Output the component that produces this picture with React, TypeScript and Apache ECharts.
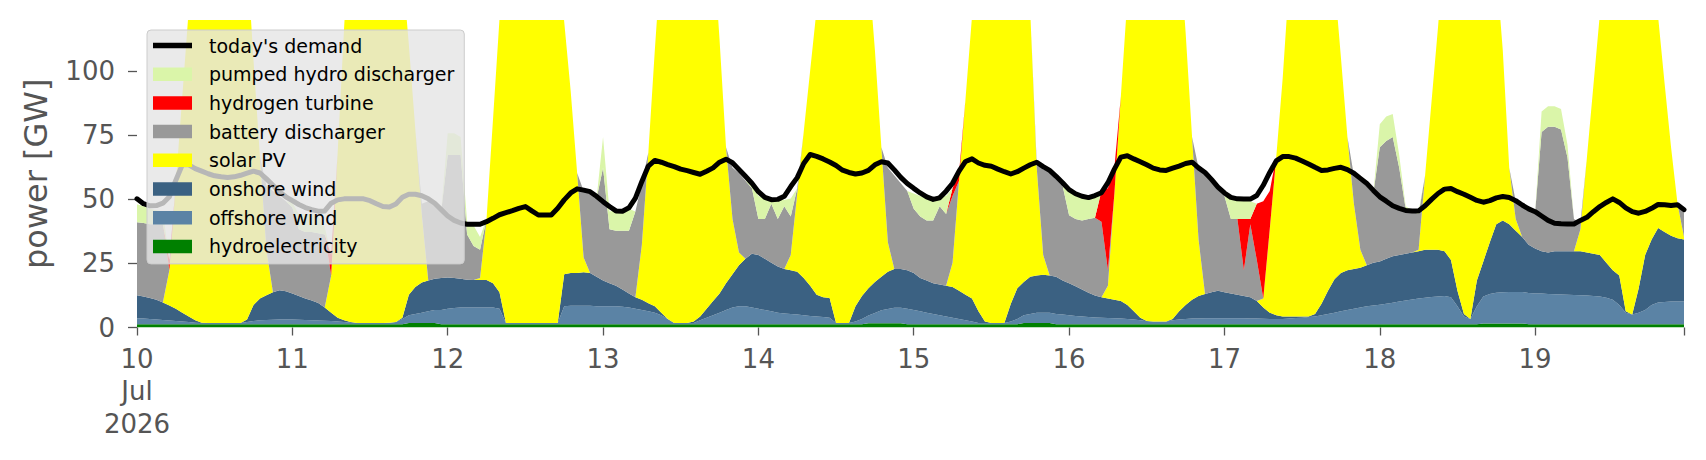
import React, { useEffect, useRef } from "react";
import * as echarts from "echarts";

// ---- categories (hourly, 10–19 Jul 2026) ----
const DAY_LABELS = ["10\nJul\n2026", "11", "12", "13", "14", "15", "16", "17", "18", "19"];
const TIMES: string[] = [];
DAY_LABELS.forEach((_, di) => {
  for (let h = 0; h < 24; h++) TIMES.push(`2026-07-${10 + di} ${String(h).padStart(2, "0")}:00`);
});
const Y_TICKS = [0, 25, 50, 75, 100];

// ---- series values [GW], one row per day ----
const DEMAND = [
  50.2, 48.3, 47.5, 47.6, 48.5, 51, 57.5, 63.5, 63.5, 62, 61, 60, 59.2, 58.8, 58.5, 58.8, 59.4, 60.2, 61, 60.3, 58, 55.5, 53, 51,
  49.5, 48, 46.8, 46, 45.4, 45.5, 48.5, 49.8, 50.2, 50.2, 50.2, 50.2, 49.5, 48.3, 47.2, 47, 48.2, 50.8, 52, 52, 51.4, 50.2, 48.5, 46,
  43.5, 41.8, 40.8, 40.3, 40.3, 40.3, 41.3, 42.6, 44, 44.8, 45.6, 46.5, 47.2, 45.5, 43.9, 43.9, 43.9, 46.5, 49.8, 52.5, 54.1, 53.6, 53, 51.2,
  49.1, 47.2, 45.5, 45.4, 46.7, 50.5, 57, 63, 65.2, 64.5, 63.6, 62.8, 61.8, 61.2, 60.5, 59.8, 61, 62.3, 64.5, 65.7, 64.3, 61.7, 59, 56.3,
  53, 50.8, 49.9, 50, 51.2, 55, 58.5, 64, 67.5, 66.8, 65.8, 64.6, 63.2, 61.4, 60.5, 59.9, 60.3, 61.3, 63.5, 64.7, 64.2, 61.5, 58.6, 56.2,
  54.3, 52.5, 51, 50, 50.6, 53.2, 56.3, 61, 64.8, 65.8, 64.2, 63.3, 62.9, 61.8, 60.8, 59.9, 60.8, 62.2, 63.5, 64.5, 62.8, 61.3, 59, 56.5,
  53.8, 52.2, 51.2, 50.7, 51.5, 52.6, 56.5, 61.8, 66.5, 67, 65.8, 64.7, 63.5, 62.2, 61.5, 61.3, 62.2, 63, 64, 64.5, 62.3, 60.5, 57.8, 54.8,
  52.5, 50.8, 50.2, 50.1, 50.1, 51.5, 55.5, 60.5, 65, 66.7, 66.7, 66.1, 65, 63.8, 62.5, 61.3, 61.5, 62.1, 62.5, 61.6, 60.2, 58.2, 56.2, 53.5,
  51, 49.3, 47.5, 46.5, 45.7, 45.5, 45.5, 47.5, 50, 52.3, 54, 54.2, 53, 52, 50.8, 49.6, 48.9, 49.5, 50.6, 51.1, 50.7, 49.5, 47.8, 46.3,
  45.2, 43.5, 41.8, 40.7, 40.5, 40.4, 40.4, 41.8, 43, 45.2, 47.2, 48.8, 50.2, 48.8, 46.7, 45.2, 44.6, 45.3, 46.5, 48, 47.9, 47.6, 47.9, 46,
];

const HYDRO = [
  1.3, 1.3, 1.3, 1.3, 1.3, 1.3, 1.3, 1.3, 1.3, 1.3, 1.3, 1.3, 1.3, 1.3, 1.3, 1.3, 1.3, 1.3, 1.3, 1.3, 1.3, 1.3, 1.3, 1.3,
  1.3, 1.3, 1.3, 1.3, 1.3, 1.3, 1.3, 1.3, 1.3, 1.3, 1.3, 1.3, 1.3, 1.3, 1.3, 1.3, 1.3, 1.3, 1.8, 1.8, 1.8, 1.8, 1.8, 1.3,
  1.3, 1.3, 1.3, 1.3, 1.3, 1.3, 1.3, 1.3, 1.3, 1.3, 1.3, 1.3, 1.3, 1.3, 1.3, 1.3, 1.3, 1.3, 1.3, 1.3, 1.3, 1.3, 1.3, 1.3,
  1.3, 1.3, 1.3, 1.3, 1.3, 1.3, 1.3, 1.3, 1.3, 1.3, 1.3, 1.3, 1.3, 1.3, 1.3, 1.3, 1.3, 1.3, 1.3, 1.3, 1.3, 1.3, 1.3, 1.3,
  1.3, 1.3, 1.3, 1.3, 1.3, 1.3, 1.3, 1.3, 1.3, 1.3, 1.3, 1.3, 1.3, 1.3, 1.3, 1.3, 1.3, 1.7, 1.7, 1.7, 1.7, 1.7, 1.7, 1.3,
  1.3, 1.3, 1.3, 1.3, 1.3, 1.3, 1.3, 1.3, 1.3, 1.3, 1.3, 1.3, 1.3, 1.3, 1.3, 1.3, 1.3, 1.8, 1.8, 1.8, 1.8, 1.8, 1.3, 1.3,
  1.3, 1.3, 1.3, 1.3, 1.3, 1.3, 1.3, 1.3, 1.3, 1.3, 1.3, 1.3, 1.3, 1.3, 1.3, 1.3, 1.3, 1.3, 1.3, 1.3, 1.3, 1.3, 1.3, 1.3,
  1.3, 1.3, 1.3, 1.3, 1.3, 1.3, 1.3, 1.3, 1.3, 1.3, 1.3, 1.3, 1.3, 1.3, 1.3, 1.3, 1.3, 1.3, 1.3, 1.3, 1.3, 1.3, 1.3, 1.3,
  1.3, 1.3, 1.3, 1.3, 1.3, 1.3, 1.3, 1.3, 1.3, 1.3, 1.3, 1.3, 1.3, 1.3, 1.3, 1.3, 1.6, 1.6, 1.6, 1.6, 1.6, 1.6, 1.6, 1.3,
  1.3, 1.3, 1.3, 1.3, 1.3, 1.3, 1.3, 1.3, 1.3, 1.3, 1.3, 1.3, 1.3, 1.3, 1.3, 1.3, 1.3, 1.3, 1.3, 1.3, 1.3, 1.3, 1.3, 1.3,
];

const OFFSHORE = [
  2.3, 2.2, 2.0, 1.8, 1.6, 1.4, 1.2, 1.0, 0.8, 0.6, 0.5, 0.5, 0.5, 0.5, 0.5, 0.5, 0.5, 0.8, 1.2, 1.5, 1.6, 1.7, 1.8, 1.8,
  1.8, 1.7, 1.6, 1.5, 1.4, 1.3, 1.2, 1.0, 0.8, 0.6, 0.5, 0.5, 0.5, 0.5, 0.5, 0.6, 0.8, 2.0, 3.0, 3.5, 4.0, 4.5, 5.0, 5.5,
  6.0, 6.3, 6.5, 6.5, 6.5, 6.5, 6.5, 6.5, 6.0, 0.5, 0.5, 0.5, 0.5, 0.5, 0.5, 0.5, 0.5, 0.5, 7.0, 7.2, 7.2, 7.2, 7.2, 7.0,
  7.0, 7.0, 7.0, 6.8, 6.5, 6.0, 5.5, 5.0, 4.5, 3.5, 2.0, 0.5, 0.5, 0.5, 0.5, 1.5, 2.5, 3.5, 4.5, 5.5, 6.5, 7.0, 7.0, 6.5,
  6.0, 5.5, 5.0, 4.5, 4.2, 4.0, 3.8, 3.5, 3.2, 3.0, 2.8, 2.5, 0.5, 0.5, 0.5, 1.0, 2.0, 3.0, 4.0, 5.0, 5.5, 6.0, 6.0, 6.0,
  5.5, 5.0, 4.5, 4.0, 3.5, 3.0, 2.5, 2.0, 1.5, 1.0, 0.5, 0.5, 0.5, 0.5, 0.5, 1.0, 2.0, 3.0, 3.5, 4.0, 4.0, 4.0, 4.0, 3.8,
  3.5, 3.2, 3.0, 2.8, 2.6, 2.5, 2.4, 2.3, 2.2, 2.0, 1.8, 1.5, 1.2, 1.0, 1.0, 1.0, 1.5, 1.8, 2.0, 2.2, 2.2, 2.3, 2.3, 2.3,
  2.3, 2.3, 2.3, 2.3, 2.2, 2.2, 2.1, 2.0, 2.0, 2.0, 2.2, 2.4, 2.5, 2.8, 3.0, 3.5, 4.0, 4.5, 5.0, 5.5, 6.0, 6.5, 7.0, 7.3,
  7.6, 8.0, 8.4, 8.8, 9.2, 9.6, 10.0, 10.3, 10.6, 10.8, 11.0, 10.5, 7.0, 3.0, 2.0, 7.0, 10.5, 11.5, 12.0, 12.2, 12.3, 12.3, 12.3, 12.2,
  12.0, 12.0, 11.8, 11.7, 11.6, 11.5, 11.4, 11.3, 11.2, 11.0, 10.8, 10.3, 9.5, 7.5, 4.5, 3.8, 4.5, 5.5, 7.5, 8.5, 8.7, 8.8, 8.8, 8.8,
];

const ONSHORE = [
  9.0, 8.6, 8.2, 7.7, 6.9, 5.9, 4.8, 3.5, 2.2, 0.9, 0.1, 0, 0, 0, 0, 0, 0, 1.0, 6.3, 8.5, 9.7, 10.8, 11.4, 11.0,
  10.2, 9.3, 8.4, 7.7, 6.9, 5.2, 3.3, 1.5, 0.7, 0.2, 0, 0, 0, 0, 0, 0, 0, 0.5, 8.0, 10.5, 11.8, 12.0, 12.2, 12.5,
  12.2, 11.7, 11.2, 10.8, 10.7, 10.7, 10.7, 9.5, 6.5, 0, 0, 0, 0, 0, 0, 0, 0, 0, 12.5, 12.8, 12.8, 13.1, 12.8, 11.5,
  10.0, 9.0, 8.0, 6.7, 5.5, 4.5, 4.0, 3.2, 2.5, 1.0, 0, 0, 0, 0, 0.5, 1.5, 3.5, 5.5, 7.5, 10.5, 13.0, 16.0, 18.5, 21.0,
  21.0, 20.0, 19.0, 18.0, 17.3, 17.0, 16.7, 14.5, 11.8, 8.5, 7.7, 7.7, 0, 0, 0, 6.0, 9.0, 10.6, 12.1, 13.1, 14.6, 15.1, 15.1, 15.0,
  14.5, 13.0, 12.5, 12.0, 12.0, 12.0, 12.0, 11.0, 10.0, 9.0, 4.5, 0.5, 0, 0, 0, 7.0, 12.0, 13.0, 14.5, 14.5, 14.8, 14.5, 14.5, 13.2,
  12.5, 11.6, 10.5, 9.5, 8.6, 8.0, 7.6, 7.2, 6.8, 5.5, 3.2, 1.0, 0, 0, 0, 0, 0.5, 3.2, 5.5, 7.3, 8.8, 9.5, 10.2, 10.7,
  10.2, 9.7, 9.2, 8.7, 8.3, 6.8, 4.4, 2.5, 1.5, 1.0, 0.8, 0.6, 0.5, 0.2, 1.0, 4.5, 9.0, 13.0, 15.0, 15.5, 15.5, 15.5, 16.0, 16.7,
  16.9, 17.5, 18.1, 18.2, 18.3, 18.4, 18.5, 18.7, 18.4, 18.2, 17.5, 14.5, 6.0, 1.0, 0, 10.0, 13.7, 20.2, 26.7, 28.0, 26.4, 23.9, 21.4, 18.8,
  17.5, 16.5, 16.2, 16.8, 16.9, 17.0, 17.1, 17.2, 16.8, 16.5, 16.2, 13.7, 11.5, 11.5, 0.5, 0, 9.5, 21.5, 25.5, 29.0, 27.3, 25.7, 24.7, 24.2,
];

const SOLAR = [
  0, 0, 0, 0, 0, 13.7, 49, 84.5, 120, 150, 175, 190, 195, 192, 180, 165, 152, 142, 95.5, 55, 17.7, 0, 0, 0,
  0, 0, 0, 0, 0, 0, 14.5, 64.5, 114.5, 158, 185, 200, 205, 205, 195, 180, 160, 136.5, 97.5, 61.5, 26.7, 0, 0, 0,
  0, 0, 0, 0, 0, 0.8, 23.8, 64, 106.5, 156.5, 185, 200, 205, 205, 200, 190, 175, 150, 98.5, 71, 39, 5.7, 0, 0,
  0, 0, 0, 0, 0, 0, 21.5, 58.8, 100, 139.5, 175, 195, 205, 205, 200, 190, 172, 140, 99, 53, 21.5, 5, 0, 0,
  0, 0, 0, 0, 0, 6, 30.5, 57, 84, 111.5, 150, 175, 195, 205, 205, 200, 185, 125, 90.5, 50.5, 11.5, 0, 0, 0,
  0, 0, 0, 0, 0, 0, 9.5, 43, 76.5, 110, 149, 180, 198, 205, 205, 195, 180, 132.5, 103.5, 42, 7.7, 0, 0, 0,
  0, 0, 0, 0, 0, 0, 5, 41.5, 80, 119.5, 159, 190, 205, 210, 210, 200, 185, 144, 106.5, 63.5, 22, 0, 0, 0,
  0, 0, 0, 0, 0, 0, 3.5, 32.5, 61.5, 93, 131, 165, 190, 200, 200, 195, 180, 116.5, 84, 52, 25.5, 7, 0, 0,
  0, 0, 0, 0, 0, 0, 0.5, 29, 58, 87, 120.5, 160, 185, 200, 205, 205, 195, 175, 100, 66.5, 22, 4.5, 0, 0,
  0, 0, 0, 0, 0, 0, 0, 8.5, 37, 65.5, 94, 135, 185, 200, 205, 200, 190, 180, 116, 82.5, 58, 34.5, 13.5, 1,
];

const BATTERY = [
  28.5, 28.7, 28.8, 29.5, 30.5, 0, 0, 0, 0, 0, 0, 0, 0, 0, 0, 0, 0, 0, 0, 0, 25, 39.5, 36.8, 35.2,
  33.5, 26, 26, 26.8, 27.2, 28.5, 0, 0, 0, 0, 0, 0, 0, 0, 0, 0, 0, 0, 0, 0, 4, 31, 28.8, 26,
  47.8, 48, 48.3, 17.7, 13.3, 11, 0, 0, 0, 0, 0, 0, 0, 0, 0, 0, 0, 0, 0, 0, 0, 26, 31, 30.5,
  44, 21, 21.5, 23, 24.5, 33.5, 24, 0, 0, 0, 0, 0, 0, 0, 0, 0, 0, 0, 0, 0, 20, 31, 30.5, 25.5,
  14, 15.5, 23, 18.5, 24.5, 15, 2, 0, 0, 0, 0, 0, 0, 0, 0, 0, 0, 0, 0, 0, 29, 36.5, 33.5, 31,
  25, 24, 23.5, 24.5, 30.5, 28, 26, 0, 0, 0, 0, 0, 0, 0, 0, 0, 0, 0, 0, 2, 33.5, 40.5, 39, 37,
  26.5, 26.2, 27, 28.7, 30.3, 29.5, 6, 0, 0, 0, 0, 0, 0, 0, 0, 0, 0, 0, 0, 0, 28, 46.7, 43, 39.5,
  37.5, 29, 29.5, 10, 28.5, 16, 0, 0, 0, 0, 0, 0, 0, 0, 0, 0, 0, 0, 0, 0, 11, 27, 30.5, 27,
  44.5, 46, 46.5, 34, 17.5, 16, 14, 0, 0, 0, 0, 0, 0, 0, 0, 0, 0, 0, 0, 0, 0, 7, 12.5, 14,
  14, 46.5, 49, 48.5, 47.5, 36.5, 12.5, 2.5, 0, 0, 0, 0, 0, 0, 0, 0, 0, 0, 0, 0, 0, 0, 0, 10.5,
];

const HYDROGEN = [
  0, 0, 0, 0, 0, 4, 0, 0, 0, 0, 0, 0, 0, 0, 0, 0, 0, 0, 0, 0, 0, 0, 0, 0,
  0, 0, 0, 0, 0, 0, 8, 0, 0, 0, 0, 0, 0, 0, 0, 0, 0, 0, 0, 0, 0, 0, 0, 0,
  0, 0, 0, 0, 0, 0, 0, 0, 0, 0, 0, 0, 0, 0, 0, 0, 0, 0, 0, 0, 0, 0, 0, 0,
  0, 0, 0, 0, 0, 0, 0, 0, 0, 0, 0, 0, 0, 0, 0, 0, 0, 0, 0, 0, 0, 0, 0, 0,
  0, 0, 0, 0, 0, 0, 0, 0, 0, 0, 0, 0, 0, 0, 0, 0, 0, 0, 0, 0, 0, 0, 0, 0,
  0, 0, 0, 0, 0, 0, 3, 3, 0, 0, 0, 0, 0, 0, 0, 0, 0, 0, 0, 0, 0, 0, 0, 0,
  0, 0, 0, 0, 0, 12, 32, 10, 0, 0, 0, 0, 0, 0, 0, 0, 0, 0, 0, 0, 0, 0, 0, 0,
  0, 0, 0, 20, 2, 22, 38, 15, 0, 0, 0, 0, 0, 0, 0, 0, 0, 0, 0, 0, 0, 0, 0, 0,
  0, 0, 0, 0, 0, 0, 0, 0, 0, 0, 0, 0, 0, 0, 0, 0, 0, 0, 0, 0, 0, 0, 0, 0,
  0, 0, 0, 0, 0, 0, 0, 0, 0, 0, 0, 0, 0, 0, 0, 0, 0, 0, 0, 0, 0, 0, 0, 0,
];

const PUMPED_HYDRO = [
  7, 6.5, 6, 5.5, 5, 0, 0, 0, 0, 0, 0, 0, 0, 0, 0, 0, 0, 0, 0, 0, 0, 0, 0, 0,
  2, 6, 7, 7, 6.5, 3, 0, 0, 0, 0, 0, 0, 0, 0, 0, 0, 0, 0, 0, 0, 0, 0, 0, 0,
  8.5, 8.5, 7, 5, 8, 5, 0, 0, 0, 0, 0, 0, 0, 0, 0, 0, 0, 0, 0, 0, 0, 0, 0, 0,
  12, 7, 8, 8, 8.5, 0, 0, 0, 0, 0, 0, 0, 0, 0, 0, 0, 0, 0, 0, 0, 0, 0, 0, 1.5,
  9, 8, 1.5, 7.5, 2.5, 7, 0, 0, 0, 0, 0, 0, 0, 0, 0, 0, 0, 0, 0, 0, 0, 0, 0, 0,
  6, 8, 8.5, 9, 4, 7, 0, 0, 0, 0, 0, 0, 0, 0, 0, 0, 0, 0, 0, 0, 0, 0, 0, 0,
  9, 10, 9.5, 8.5, 8, 0, 0, 0, 0, 0, 0, 0, 0, 0, 0, 0, 0, 0, 0, 0, 0, 0, 0, 0,
  0, 8, 8, 8, 7, 0, 0, 0, 0, 0, 0, 0, 0, 0, 0, 0, 0, 0, 0, 0, 0, 0, 0, 0,
  9, 9.5, 9, 5, 1, 0.5, 1, 0, 0, 0, 0, 0, 0, 0, 0, 0, 0, 0, 0, 0, 0, 0, 0, 0,
  0, 8, 8, 8, 8, 5, 0, 0, 0, 0, 0, 0, 0, 0, 0, 0, 0, 0, 0, 0, 0, 0, 0, 0,
];

// ---- styles ----
const FONT = "DejaVu Sans";
const AXIS_GREY = "#555555";
const STACK = [
  { name: "hydroelectricity", data: HYDRO, color: "#008000" },
  { name: "offshore wind", data: OFFSHORE, color: "#5b83a5" },
  { name: "onshore wind", data: ONSHORE, color: "#3b6182" },
  { name: "solar PV", data: SOLAR, color: "#ffff00" },
  { name: "battery discharger", data: BATTERY, color: "#999999" },
  { name: "hydrogen turbine", data: HYDROGEN, color: "#ff0000" },
  { name: "pumped hydro discharger", data: PUMPED_HYDRO, color: "#daf5a9" },
];
const DEMAND_NAME = "today's demand";

export default function App() {
  const ref = useRef<HTMLDivElement>(null);

  useEffect(() => {
    document.body.style.margin = "0";
    if (!ref.current) return;
    const chart = echarts.init(ref.current, undefined, { renderer: "svg" });

    const stackSeries = STACK.map((s) => ({
      name: s.name,
      type: "line",
      stack: "supply",
      data: s.data,
      symbol: "none",
      showSymbol: false,
      smooth: false,
      lineStyle: { width: 0, color: s.color },
      itemStyle: { color: s.color },
      areaStyle: { color: s.color, opacity: 1 },
      emphasis: { disabled: true },
      z: 2,
    }));

    const legendData = [
      { name: DEMAND_NAME, icon: "path://M0,0L40,0L40,5.8L0,5.8Z", itemStyle: { color: "#000000" } },
      ...[...STACK].reverse().map((s) => ({ name: s.name, icon: "rect", itemStyle: { color: s.color } })),
    ];

    chart.setOption({
      animation: false,
      backgroundColor: "#ffffff",
      grid: { left: 137, right: 22, top: 20, bottom: 132.5, containLabel: false },
      legend: {
        orient: "vertical",
        left: 147,
        top: 30,
        padding: [6, 10, 8, 6],
        itemGap: 9.7,
        itemWidth: 39,
        itemHeight: 13.5,
        backgroundColor: "rgba(229,229,229,0.8)",
        borderColor: "#cccccc",
        borderWidth: 1,
        borderRadius: 4,
        selectedMode: false,
        itemStyle: { borderWidth: 0 },
        textStyle: { fontFamily: FONT, fontSize: 19, lineHeight: 19, color: "#000000", padding: [0, 0, 0, 12] },
        data: legendData,
      },
      xAxis: {
        type: "category",
        data: TIMES,
        boundaryGap: false,
        axisLine: { show: false },
        splitLine: { show: false },
        axisTick: {
          show: true,
          interval: (i: number) => i % 24 === 0 || i === TIMES.length - 1,
          length: 8,
          lineStyle: { color: AXIS_GREY, width: 1.3 },
        },
        axisLabel: {
          interval: (i: number) => i % 24 === 0,
          formatter: (_v: string, i: number) => DAY_LABELS[Math.floor(i / 24)] ?? "",
          color: AXIS_GREY,
          fontFamily: FONT,
          fontSize: 26,
          lineHeight: 32.5,
          margin: 15,
        },
      },
      yAxis: {
        type: "value",
        min: 0,
        max: 120,
        interval: 25,
        axisLine: { show: false },
        splitLine: { show: false },
        axisTick: {
          show: true,
          length: 9,
          customValues: Y_TICKS,
          lineStyle: { color: AXIS_GREY, width: 1.3 },
        },
        axisLabel: {
          customValues: Y_TICKS,
          color: AXIS_GREY,
          fontFamily: FONT,
          fontSize: 26,
          margin: 22,
        },
        name: "power [GW]",
        nameLocation: "middle",
        nameGap: 85,
        nameTextStyle: { color: AXIS_GREY, fontFamily: FONT, fontSize: 32 },
      },
      series: [
        ...stackSeries,
        {
          name: DEMAND_NAME,
          type: "line",
          data: DEMAND,
          symbol: "none",
          showSymbol: false,
          lineStyle: { color: "#000000", width: 5, join: "round", cap: "round" },
          itemStyle: { color: "#000000" },
          emphasis: { disabled: true },
          z: 3,
        },
      ],
    });

    return () => chart.dispose();
  }, []);

  return <div ref={ref} style={{ width: 1706, height: 460 }} />;
}
